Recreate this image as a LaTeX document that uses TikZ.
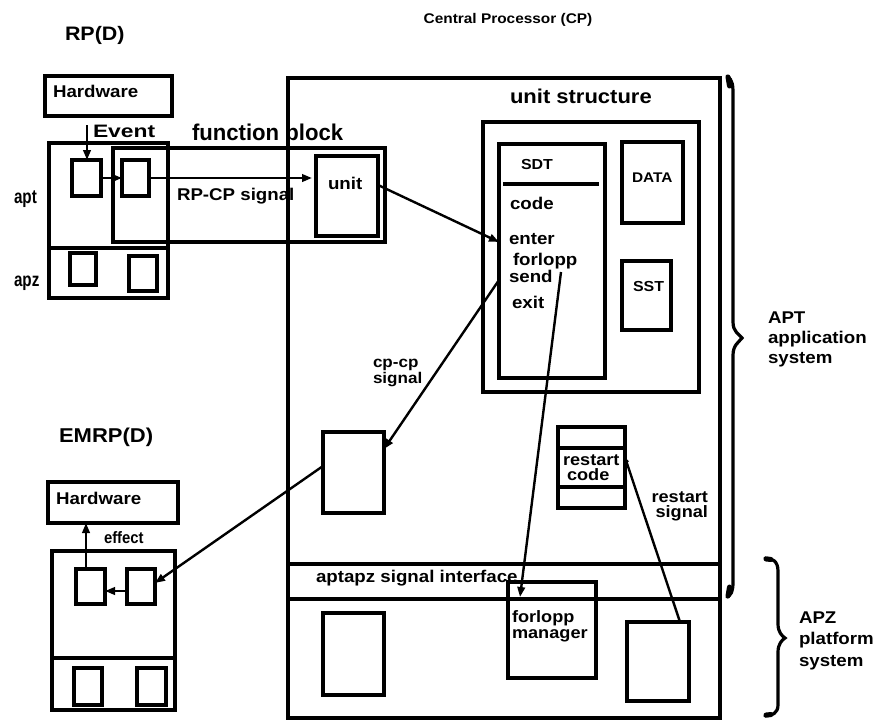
\documentclass[tikz,border=0pt]{standalone}
\usepackage{fontspec}
\setmainfont{Liberation Sans}[FakeStretch=1.1]
\newfontfamily\narrowff{Liberation Sans}[FakeStretch=0.78]
\newfontfamily\fbff{Liberation Sans}[FakeStretch=0.97]
\newfontfamily\effff{Liberation Sans}[FakeStretch=0.9]
\newfontfamily\wideff{Liberation Sans}[FakeStretch=1.27]
\usetikzlibrary{arrows.meta}
\newcommand{\myfs}[1]{\fontsize{#1}{#1}\selectfont}
\tikzset{
  box/.style={draw, line width=3.2pt, inner sep=0pt, outer sep=0pt, anchor=north west},
  lbl/.style={inner sep=0pt, outer sep=0pt, anchor=base west},
  lblr/.style={inner sep=0pt, outer sep=0pt, anchor=base east},
  arr/.style={line width=2.4pt, -{Triangle[length=10pt,width=7.5pt]}},
  sarr/.style={line width=2.4pt, -{Triangle[length=5pt,width=5pt]}},
  thick line/.style={line width=3.2pt},
  brace/.style={line width=3.2pt, line cap=round}
}
\begin{document}
\begin{tikzpicture}[x=1pt,y=-1pt]
\useasboundingbox (0,0) rectangle (880,721);
% ---------- boxes ----------
\node[box, minimum width=432pt, minimum height=640pt] (cp) at (288,78) {};
\node[box, minimum width=127pt, minimum height=40pt] (hw1) at (45,76) {};
\node[box, minimum width=119pt, minimum height=155pt] (rp) at (49,143) {};
\node[box, minimum width=272pt, minimum height=94pt] (fb) at (113,148) {};
\node[box, minimum width=29pt, minimum height=36pt] (b1) at (72,160) {};
\node[box, minimum width=27pt, minimum height=36pt] (b2) at (122,160) {};
\node[box, minimum width=26pt, minimum height=32pt] (e1) at (70,253) {};
\node[box, minimum width=28pt, minimum height=35pt] (f1) at (129,256) {};
\node[box, minimum width=62pt, minimum height=80pt] (unit) at (316,156) {};
\node[box, minimum width=216pt, minimum height=270pt] (us) at (483,122) {};
\node[box, minimum width=106pt, minimum height=234pt] (sdt) at (499,144) {};
\node[box, minimum width=61pt, minimum height=81pt] (data) at (622,142) {};
\node[box, minimum width=49pt, minimum height=69pt] (sst) at (622,261) {};
\node[box, minimum width=61pt, minimum height=81pt] (cpcp) at (323,432) {};
\node[box, minimum width=67pt, minimum height=81pt] (rst) at (558,427) {};
\node[box, minimum width=61pt, minimum height=82pt] (apzl) at (323,613) {};
\node[box, minimum width=88pt, minimum height=96pt] (flm) at (508,582) {};
\node[box, minimum width=62pt, minimum height=79pt] (rbox) at (627,622) {};
\node[box, minimum width=130pt, minimum height=41pt] (hw2) at (48,482) {};
\node[box, minimum width=123pt, minimum height=159pt] (em) at (52,551) {};
\node[box, minimum width=29pt, minimum height=35pt] (a2) at (76,569) {};
\node[box, minimum width=28pt, minimum height=35pt] (b3) at (127,569) {};
\node[box, minimum width=28pt, minimum height=37pt] (c2) at (74,668) {};
\node[box, minimum width=29pt, minimum height=37pt] (d2) at (137,668) {};
% ---------- divider lines ----------
\draw[thick line] (rp.west |- 0,248) -- (rp.east |- 0,248);
\draw[thick line] (em.west |- 0,658) -- (em.east |- 0,658);
\draw[thick line] (cp.west |- 0,564) -- (cp.east |- 0,564);
\draw[thick line] (cp.west |- 0,599) -- (cp.east |- 0,599);
\draw[thick line] (503,184) -- (599,184);
\draw[thick line] (rst.west |- 0,448) -- (rst.east |- 0,448);
\draw[thick line] (rst.west |- 0,487) -- (rst.east |- 0,487);
% ---------- braces ----------
\draw[brace] (727,76) .. controls (733,80) and (733,86) .. (733,96) -- (733,322)
  .. controls (733,332) and (739,334) .. (742,338)
  .. controls (739,342) and (733,345) .. (733,355) -- (733,582)
  .. controls (733,592) and (731,595) .. (727,597);
\draw[line width=5pt, line cap=round] (728,77) -- (729.5,86);
\draw[line width=5pt, line cap=round] (728,596) -- (729.5,587);
\draw[brace] (765,558) .. controls (772,558) and (778,561) .. (778,571) -- (778,624)
  .. controls (778,632) and (782,636) .. (785,638)
  .. controls (782,640) and (778,644) .. (778,652) -- (778,705)
  .. controls (778,713) and (772,716) .. (765,716);
\draw[line width=5pt, line cap=round] (766,559) -- (771,559.5);
\draw[line width=5pt, line cap=round] (766,715) -- (771,714.5);
% ---------- texts ----------
\node[lbl, anchor=base, font=\bfseries\myfs{14}] (cptitle) at (508,23) {Central Processor (CP)};
\node[lbl, font=\bfseries\myfs{19.5}] (rpd) at (65,40) {RP(D)};
\node[lbl, font=\bfseries\myfs{17}] (hw1t) at (53,97) {Hardware};
\node[lbl, font=\wideff\bfseries\myfs{18}] (evt) at (93,137) {Event};
\node[lbl, font=\fbff\bfseries\myfs{22.8}] (fbt) at (192,140) {function block};
\node[lbl, font=\narrowff\bfseries\myfs{19.5}] (aptt) at (14,203) {apt};
\node[lbl, font=\narrowff\bfseries\myfs{19.5}] (apzt) at (14,286) {apz};
\node[lbl, font=\bfseries\myfs{17}] (rpcp) at (177,200) {RP-CP signal};
\node[lbl, font=\bfseries\myfs{17}] (unitt) at (328,189) {unit};
\node[lbl, font=\bfseries\myfs{20}] (ust) at (510,103) {unit structure};
\node[lbl, font=\bfseries\myfs{14.5}] (sdtt) at (521,169) {SDT};
\node[lbl, font=\bfseries\myfs{17}] (codet) at (510,209) {code};
\node[lbl, font=\bfseries\myfs{17}] (entert) at (509,244) {enter};
\node[lbl, font=\bfseries\myfs{17}] (forloppt) at (513,265) {forlopp};
\node[lbl, font=\bfseries\myfs{17}] (sendt) at (509,282) {send};
\node[lbl, font=\bfseries\myfs{17}] (exitt) at (512,308) {exit};
\node[lbl, font=\bfseries\myfs{14}] (datat) at (632,182) {DATA};
\node[lbl, font=\bfseries\myfs{14.5}] (sstt) at (633,291) {SST};
\node[lbl, font=\bfseries\myfs{15.5}] (cpcp1) at (373,367) {cp-cp};
\node[lbl, font=\bfseries\myfs{15.5}] (cpcp2) at (373,383) {signal};
\node[lbl, font=\bfseries\myfs{16.5}] (rc1) at (563,465) {restart};
\node[lbl, font=\bfseries\myfs{16.5}] (rc2) at (567,480) {code};
\node[lblr, font=\bfseries\myfs{16.5}] (rs1) at (708,502) {restart};
\node[lblr, font=\bfseries\myfs{16.5}] (rs2) at (708,517) {signal};
\node[lbl, font=\bfseries\myfs{17}] (aptapz) at (316,582) {aptapz signal interface};
\node[lbl, font=\bfseries\myfs{16.5}] (fm1) at (512,622) {forlopp};
\node[lbl, font=\bfseries\myfs{16.5}] (fm2) at (512,638) {manager};
\node[lbl, font=\bfseries\myfs{17}] (apt1) at (768,323) {APT};
\node[lbl, font=\bfseries\myfs{17}] (apt2) at (768,343) {application};
\node[lbl, font=\bfseries\myfs{17}] (apt3) at (768,363) {system};
\node[lbl, font=\bfseries\myfs{17}] (apz1) at (799,623) {APZ};
\node[lbl, font=\bfseries\myfs{17}] (apz2) at (799,644) {platform};
\node[lbl, font=\bfseries\myfs{17}] (apz3) at (799,666) {system};
\node[lbl, font=\bfseries\myfs{20}] (emrp) at (59,442) {EMRP(D)};
\node[lbl, font=\bfseries\myfs{17}] (hw2t) at (56,504) {Hardware};
\node[lbl, font=\effff\bfseries\myfs{16.5}] (efft) at (104,543) {effect};
% ---------- connectors ----------
\coordinate (evstart) at (87,125);
\draw[arr] (evstart) -- (evstart |- b1.north);
\draw[arr] (b1.east) -- (b2.west);
\draw[arr, shorten >=4pt] (b2.east) -- (b2.east -| unit.west);
\draw[arr] ([yshift=11pt]unit.east) -- ([yshift=19pt]sdt.west);
\draw[arr] ([yshift=-19pt]sdt.west) -- ([yshift=23.5pt]cpcp.east);
\draw[arr] ([yshift=6.5pt]cpcp.west) -- ([yshift=3.5pt]b3.east);
\draw[arr] ([yshift=-4.5pt]b3.west) -- ([yshift=-4.5pt]a2.east);
\draw[arr] ([xshift=-4.5pt]a2.north) -- ([xshift=-4.5pt]a2.north |- hw2.south);
\coordinate (flstart) at (561,272);
\coordinate (fltip) at (520,597);
\draw[arr] (flstart) -- (fltip);
\draw[sarr] ([xshift=-9pt]rbox.north east) -- ([yshift=10pt]rst.east);
\end{tikzpicture}
\end{document}
